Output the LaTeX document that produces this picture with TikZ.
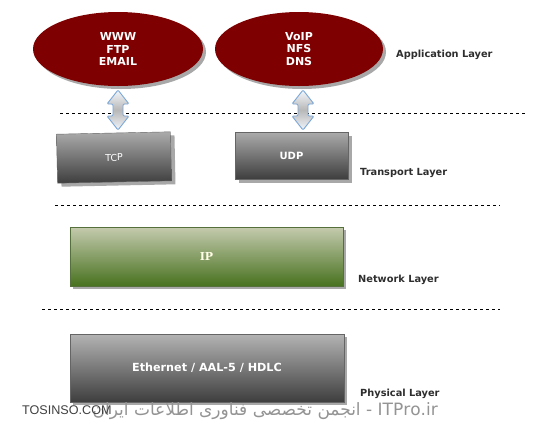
\documentclass[tikz,border=0pt]{standalone}
\usepackage{fontspec}
\usetikzlibrary{shapes.geometric,calc}
\setmainfont{DejaVu Sans}
\newfontfamily\serifb{DejaVu Serif}
\newfontfamily\arabicfont[Script=Arabic]{DejaVu Sans}
\newfontfamily\libsans{Liberation Sans}
\TeXXeTstate=1
\definecolor{maroon}{HTML}{7F0000}
\definecolor{shadowgray}{HTML}{A8A8A8}
\definecolor{labelgray}{HTML}{2E2E2E}
\definecolor{arrowblue}{HTML}{7BA7D7}
\definecolor{boxtop}{HTML}{ABABAB}
\definecolor{boxbot}{HTML}{3E3E3E}
\definecolor{iptop}{HTML}{C4CAAE}
\definecolor{ipbot}{HTML}{48721F}
\definecolor{ipborder}{HTML}{55703A}
\tikzset{
  appell/.style={ellipse, fill=maroon, text=white, align=center, inner sep=0pt,
    font=\bfseries\fontsize{11}{12.5}\selectfont},
  ellshadow/.style={ellipse, fill=shadowgray, inner sep=0pt},
  graybox/.style={rectangle, top color=boxtop, bottom color=boxbot, draw=boxbot!80, line width=0.4pt, text=white, inner sep=0pt},
  greenbox/.style={rectangle, top color=iptop, bottom color=ipbot, draw=ipborder, line width=0.5pt, inner sep=0pt},
  boxshadow/.style={rectangle, fill=shadowgray, inner sep=0pt},
  layerlabel/.style={anchor=west, text=labelgray, inner sep=0pt, font=\bfseries\fontsize{9.8}{10}\selectfont},
  sep/.style={draw=black, line width=0.7pt, dash pattern=on 3pt off 3pt},
  dblarr/.style={draw=arrowblue, line width=0.9pt, rounded corners=1.2pt,
    top color=white!92!arrowblue, bottom color=white!90!arrowblue, middle color=black!28},
}
\newcommand\dblarrow[3]{% x, top y, bottom y
  \path[dblarr] (#1,#2) -- ++(11,14) -- ++(-6,0) -- (#1+5,#3-14) -- ++(6,0) -- (#1,#3)
    -- ++(-11,-14) -- ++(6,0) -- (#1-5,#2+14) -- ++(-6,0) -- cycle;}
\begin{document}
\begin{tikzpicture}[x=1pt,y=-1pt]
\useasboundingbox[fill=white] (0,0) rectangle (550,432);

% Application layer ellipses
\node[ellshadow, minimum width=170, minimum height=74] at (121,52) {};
\node[appell, minimum width=170, minimum height=74] (app1) at (118,49) {WWW\\FTP\\EMAIL};
\node[ellshadow, minimum width=168, minimum height=74] at (302,52) {};
\node[appell, minimum width=168, minimum height=74] (app2) at (299,49) {VoIP\\NFS\\DNS};
\node[layerlabel] (lapp) at (396,55) {Application Layer};

% separator 1
\coordinate (s1a) at (60,113); \coordinate (s1b) at (525,113);
\draw[sep] (s1a) -- (s1b);

% Transport layer boxes
\node[boxshadow, rotate=1.2, minimum width=114, minimum height=49] at (118,161) {};
\node[graybox, rotate=1.2, minimum width=114, minimum height=49, font=\fontsize{9.5}{10}\selectfont] (tcp) at (114,157.5) {TCP};
\node[boxshadow, minimum width=113, minimum height=47] at (295.5,159.5) {};
\node[graybox, minimum width=113, minimum height=47, font=\bfseries\fontsize{10}{11}\selectfont] (udp) at (291.5,155.5) {UDP};
\node[layerlabel] (ltr) at (360,173) {Transport Layer};

% arrows
\dblarrow{118}{90}{130}
\dblarrow{303}{90}{130}

% separator 2
\coordinate (s2a) at (55,205); \coordinate (s2b) at (500,205);
\draw[sep] (s2a) -- (s2b);

% Network layer
\node[boxshadow, minimum width=273, minimum height=59] at (209.5,259.5) {};
\node[greenbox, minimum width=273, minimum height=59, text=white!90!yellow, font=\serifb\bfseries\fontsize{11}{12}\selectfont] (ip) at (206.5,256.5) {IP};
\node[layerlabel] (lnet) at (358,280) {Network Layer};

% separator 3
\coordinate (s3a) at (42,309); \coordinate (s3b) at (500,309);
\draw[sep] (s3a) -- (s3b);

% Physical layer
\node[boxshadow, minimum width=274, minimum height=68] at (210,371) {};
\node[graybox, minimum width=274, minimum height=68, top color=boxtop!90!white, font=\bfseries\fontsize{11.2}{12}\selectfont] (phy) at (207,368) {Ethernet / AAL-5 / HDLC};
\node[layerlabel] (lphy) at (360,394) {Physical Layer};

% watermark
\node[anchor=east, inner sep=0pt, text=black!42] (wm) at (438,411)
  {\arabicfont\fontsize{17}{18}\selectfont\beginR\beginL ITPro.ir\endL{} - انجمن تخصصی فناوری اطلاعات ایران\endR};
\node[anchor=west, inner sep=0pt, text=black!75] (tos) at (22,410)
  {\libsans\fontsize{12.6}{13}\selectfont TOSINSO.COM};
\end{tikzpicture}
\end{document}
